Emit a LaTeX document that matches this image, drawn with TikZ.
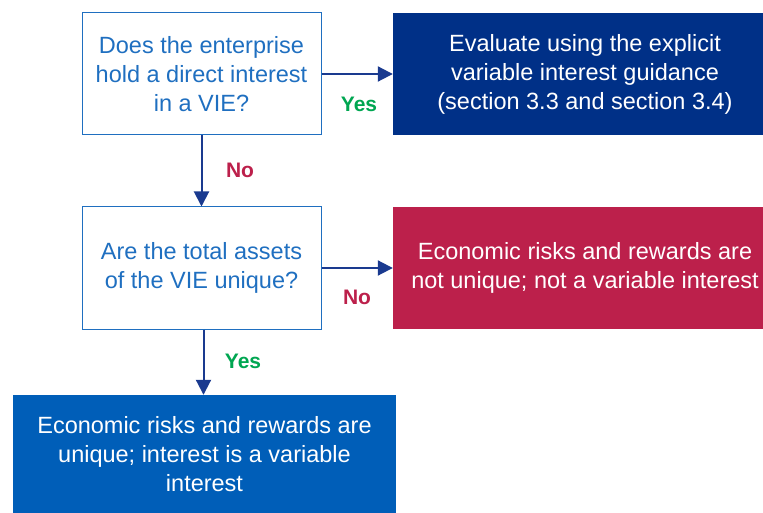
\documentclass[tikz,border=0pt]{standalone}
\usepackage{fontspec}
\setmainfont{Liberation Sans}
\usetikzlibrary{arrows.meta}
\definecolor{qblue}{HTML}{1F6FC0}
\definecolor{navy}{HTML}{003087}
\definecolor{crim}{HTML}{BC204B}
\definecolor{mblue}{HTML}{005EB8}
\definecolor{ygreen}{HTML}{00A651}
\definecolor{arr}{HTML}{1A3A8F}
\begin{document}
\begin{tikzpicture}[x=1pt,y=-1pt,
  qbox/.style={draw=qblue,line width=1pt,text=qblue,align=center,font=\fontsize{23.5}{29}\selectfont,inner sep=0pt},
  fbox/.style={text=white,align=center,font=\fontsize{23.5}{29}\selectfont,inner sep=0pt},
  link/.style={draw=arr,line width=2pt,-{Triangle[length=15pt,width=15pt]}},
  yes/.style={text=ygreen,font=\bfseries\fontsize{21}{22}\selectfont},
  no/.style={text=crim,font=\bfseries\fontsize{21}{22}\selectfont}]
\useasboundingbox (0,0) rectangle (763,513);
\node[qbox,minimum width=239pt,minimum height=122pt] (q1) at (201.5,74) {Does the enterprise\\hold a direct interest\\in a VIE?};
\node[fbox,fill=navy,minimum width=370pt,minimum height=122pt] (e1) at (578,74) {};
\node[fbox] (e1t) at (585,74) {Evaluate using the explicit\\variable interest guidance\\(section 3.3 and section 3.4)};
\node[qbox,minimum width=239pt,minimum height=122pt] (q2) at (201.5,268) {Are the total assets\\of the VIE unique?};
\node[fbox,fill=crim,minimum width=370pt,minimum height=122pt] (e2) at (578,268) {};
\node[fbox] (e2t) at (585,268) {Economic risks and rewards are\\not unique; not a variable interest};
\node[fbox,fill=mblue,minimum width=383pt,minimum height=118pt] (e3) at (204.5,454) {Economic risks and rewards are\\unique; interest is a variable\\interest};
\draw[link] (q1.east) -- (e1.west);
\draw[link] (q1.south) -- (q1.south |- q2.north);
\draw[link] (q2.east) -- (e2.west);
\draw[link] ([xshift=2pt]q2.south) -- ([xshift=2pt]q2.south |- e3.north);
\node[yes] (y1) at (359,104) {Yes};
\node[no] (n1) at (240,170) {No};
\node[no] (n2) at (357,297) {No};
\node[yes] (y2) at (243,361) {Yes};
\end{tikzpicture}
\end{document}
